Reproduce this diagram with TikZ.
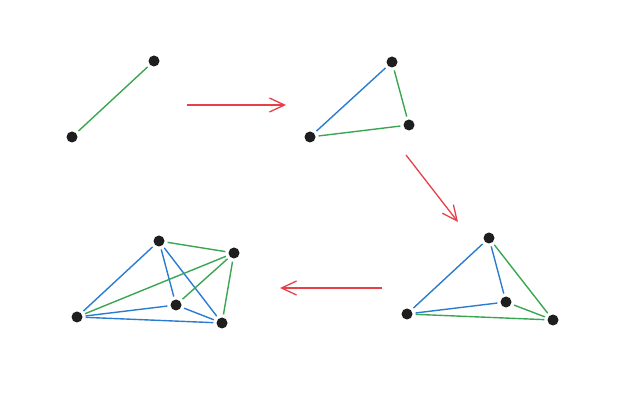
\documentclass[tikz,border=0pt]{standalone}
\usetikzlibrary{arrows.meta}
\definecolor{eblue}{RGB}{42,124,208}
\definecolor{egreen}{RGB}{58,166,82}
\definecolor{ered}{RGB}{232,64,72}
\definecolor{dotc}{RGB}{30,30,30}
\tikzset{
  x=1pt, y=-1pt,
  vtx/.style={circle, fill=dotc, inner sep=0pt, minimum size=11pt},
  eb/.style={draw=eblue, line width=1.4pt, shorten <=3pt, shorten >=3pt},
  eg/.style={draw=egreen, line width=1.4pt, shorten <=3pt, shorten >=3pt},
  stagearrow/.style={draw=ered, line width=1.3pt, -{Straight Barb[length=15pt,width=14pt,line width=1.3pt]}},
}
\begin{document}
\begin{tikzpicture}
\useasboundingbox (0,0) rectangle (640,403);
% graph 1
\node[vtx] (a1) at (72,137) {};
\node[vtx] (b1) at (154,61) {};
\draw[eg] (a1) -- (b1);
% graph 2
\node[vtx] (a2) at (310,137) {};
\node[vtx] (b2) at (392,62) {};
\node[vtx] (c2) at (409,125) {};
\draw[eb] (a2) -- (b2);
\draw[eg] (b2) -- (c2);
\draw[eg] (a2) -- (c2);
% graph 3
\node[vtx] (a3) at (407,314) {};
\node[vtx] (b3) at (489,238) {};
\node[vtx] (c3) at (506,302) {};
\node[vtx] (d3) at (553,320) {};
\draw[eb] (a3) -- (b3);
\draw[eb] (b3) -- (c3);
\draw[eb] (a3) -- (c3);
\draw[eg] (b3) -- (d3);
\draw[eg] (c3) -- (d3);
\draw[eg] (a3) -- (d3);
% graph 4
\node[vtx] (a4) at (77,317) {};
\node[vtx] (b4) at (159,241) {};
\node[vtx] (c4) at (234,253) {};
\node[vtx] (d4) at (176,305) {};
\node[vtx] (e4) at (222,323) {};
\draw[eb] (a4) -- (b4);
\draw[eb] (b4) -- (d4);
\draw[eb] (b4) -- (e4);
\draw[eb] (a4) -- (d4);
\draw[eb] (a4) -- (e4);
\draw[eb] (d4) -- (e4);
\draw[eg] (b4) -- (c4);
\draw[eg] (a4) -- (c4);
\draw[eg] (c4) -- (d4);
\draw[eg] (c4) -- (e4);
% arrows
\coordinate (s1) at (187,105); \coordinate (t1) at (286,105);
\coordinate (s2) at (406,155); \coordinate (t2) at (458,222);
\coordinate (s3) at (382,288); \coordinate (t3) at (280,288);
\draw[stagearrow] (s1) -- (t1);
\draw[stagearrow] (s2) -- (t2);
\draw[stagearrow] (s3) -- (t3);
\end{tikzpicture}
\end{document}
